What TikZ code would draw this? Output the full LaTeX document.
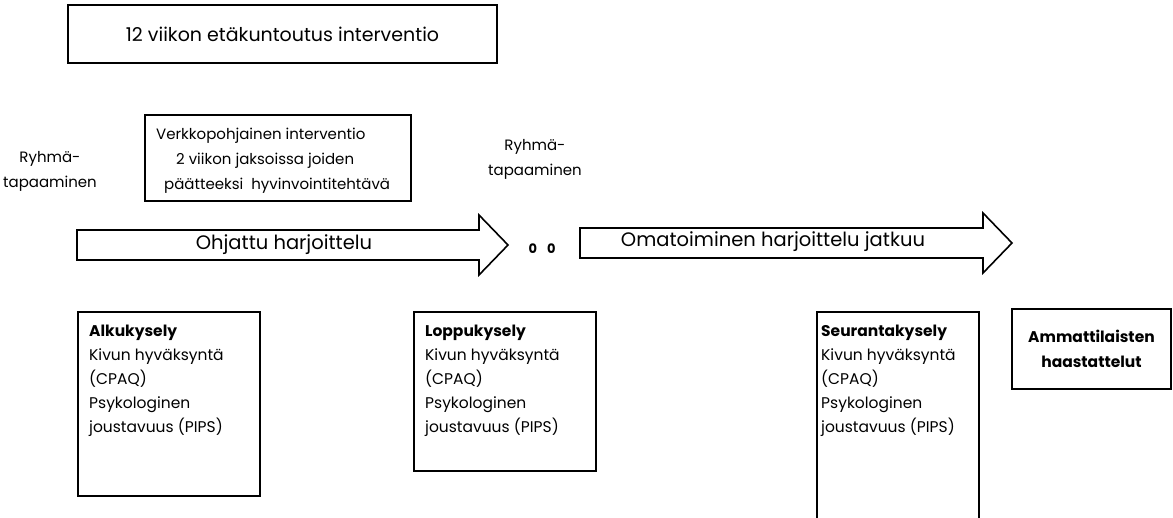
\documentclass[tikz,border=0pt]{standalone}
\usepackage{fontspec}
\setmainfont{Poppins}
\begin{document}
\begin{tikzpicture}[x=1pt,y=-1pt,
  box/.style={draw, line width=1.6pt, inner sep=0pt},
  body/.style={inner sep=0pt, align=left, font=\fontsize{15.5}{24}\selectfont},
  ctr/.style={inner sep=0pt, align=center, font=\fontsize{15}{25}\selectfont},
  big/.style={inner sep=0pt, font=\fontsize{19.5}{22}\selectfont},
  bigarrow/.style={draw, line width=1.6pt, line join=miter}]
\useasboundingbox (0,0) rectangle (1173,517);
\clip (0,0) rectangle (1173,517);

% top box
\node[box, minimum width=429pt, minimum height=58pt, font=\fontsize{19}{22}\selectfont] (top) at (282.5,34) {12 viikon etäkuntoutus interventio};

% Verkko box
\node[box, minimum width=266pt, minimum height=86pt, anchor=north west] (verkko) at (144,114) {};
\node[body, font=\fontsize{15}{25}\selectfont, anchor=north west] (verkkotxt) at ([shift={(12,14)}]verkko.north west)
  {Verkkopohjainen interventio\\\hspace*{20pt}2 viikon jaksoissa joiden\\\hspace*{8pt}päätteeksi\ \ hyvinvointitehtävä};

% Ryhma labels
\node[ctr] (r1) at (50,171) {Ryhmä-\\tapaaminen};
\node[ctr] (r2) at (535,159) {Ryhmä-\\tapaaminen};

% arrows
\draw[bigarrow] (77,230) -- (479,230) -- (479,215) -- (508,245) -- (479,275) -- (479,260) -- (77,260) -- cycle;
\node[big] (ohj) at (284,245) {Ohjattu harjoittelu};
\node[inner sep=0pt, font=\bfseries\fontsize{13}{14}\selectfont] (zz) at (542,249) {0\hspace{10pt}0};
\draw[bigarrow] (580,228) -- (983,228) -- (983,213) -- (1012,243) -- (983,273) -- (983,258) -- (580,258) -- cycle;
\node[big] (oma) at (773,242) {Omatoiminen harjoittelu jatkuu};

% survey boxes
\node[box, minimum width=182pt, minimum height=184pt, anchor=north west] (alku) at (77,311) {};
\node[body, anchor=north west] (alkutxt) at ([shift={(12,14)}]alku.north west)
  {\textbf{Alkukysely}\\Kivun hyväksyntä\\(CPAQ)\\Psykologinen\\joustavuus (PIPS)};

\node[box, minimum width=182pt, minimum height=159pt, anchor=north west] (loppu) at (413,311) {};
\node[body, anchor=north west] (lopputxt) at ([shift={(12,14)}]loppu.north west)
  {\textbf{Loppukysely}\\Kivun hyväksyntä\\(CPAQ)\\Psykologinen\\joustavuus (PIPS)};

\node[box, minimum width=162pt, minimum height=230pt, anchor=north west] (seur) at (816,311) {};
\node[body, anchor=north west] (seurtxt) at ([shift={(5,14)}]seur.north west)
  {\textbf{Seurantakysely}\\Kivun hyväksyntä\\(CPAQ)\\Psykologinen\\joustavuus (PIPS)};

\node[box, minimum width=159pt, minimum height=80pt, font=\bfseries\fontsize{15.5}{25}\selectfont, align=center] (amm) at (1091.5,349) {Ammattilaisten\\haastattelut};
\end{tikzpicture}
\end{document}
